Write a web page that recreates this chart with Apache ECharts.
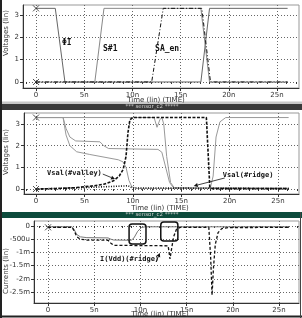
<!DOCTYPE html>
<html>
<head>
<meta charset="UTF-8">
<script src="https://cdn.jsdelivr.net/npm/echarts@6/dist/echarts.min.js"></script>
<style>
    html, body { margin: 0; padding: 0; background: #fff; }
    #chart { width: 302px; height: 318px; }
</style>
</head>
<body>
<div id="chart"></div>
<script>
// 时间轴刻度 (ns)
var timeTicks = [0, 5, 10, 15, 20, 25];
var timeLabels = ['0', '5n', '10n', '15n', '20n', '25n'];
var timeMinor = [-1, 0, 1, 2, 3, 4, 5, 6, 7, 8, 9, 10, 11, 12, 13, 14, 15, 16, 17, 18, 19, 20, 21, 22, 23, 24, 25, 26, 27];
var voltTicks = [0, 1, 2, 3];
var voltLabels = ['0', '1', '2', '3'];
var currTicks = [0, -0.5, -1, -1.5, -2, -2.5];       // mA
var currLabels = ['0', '-500u', '-1m', '-1.5m', '-2m', '-2.5m'];

// 面板1: 控制信号 [t(ns), V]
var phiI = [[0, 3.3], [2.0, 3.3], [3.0, 0], [17.1, 0], [18.0, 3.3], [26.1, 3.3]];
var sw1 = [[0, 0], [6.1, 0], [7.05, 3.3], [17.1, 3.3], [18.0, 0], [26.1, 0]];
var saEn = [[0, 0], [12.0, 0], [13.2, 3.3], [17.2, 3.3], [18.1, 0], [26.1, 0]];

// 面板2: 灵敏放大器节点 [t(ns), V]
var node1 = [[0, 3.3], [12.2, 3.3], [12.5, 2.85], [12.8, 3.2], [13.0, 3.3], [13.2, 3.0], [13.5, 1.5], [13.9, 0.3], [14.3, 0.05],
             [18.0, 0.03], [18.3, 0.6], [18.6, 2.4], [19.0, 3.1], [19.6, 3.3], [26.1, 3.3]];
var node2 = [[0, 3.3], [2.8, 3.3], [3.1, 2.8], [3.5, 2.4], [4.1, 2.22], [6.6, 2.18], [7.0, 2.0], [7.5, 1.87], [12.6, 1.83],
             [13.0, 1.7], [13.4, 1.0], [13.8, 0.3], [14.2, 0.06], [26.1, 0.03]];
var node3 = [[0, 3.3], [2.8, 3.3], [3.1, 2.5], [3.5, 2.0], [4.2, 1.72], [5.5, 1.6], [8.5, 1.35], [9.0, 1.25], [9.3, 1.0],
             [9.6, 0.4], [9.9, 0.1], [10.4, 0.03], [26.1, 0.03]];
var vsaValley = [[0, 0], [2, 0.02], [4, 0.06], [6, 0.15], [7, 0.22], [8, 0.38], [8.6, 0.6], [9, 0.9], [9.3, 1.5], [9.5, 2.6],
                 [9.7, 3.2], [10, 3.3], [17.6, 3.3], [17.8, 1.5], [17.95, 0.1], [18.2, 0.02], [26.1, 0.02]];
var vsaRidge = [[0, 0], [4, 0.05], [8, 0.12], [9.5, 0.15], [10, 0.05], [26.1, 0.02]];

// 面板3: 电源电流 [t(ns), mA]
var iVddA = [[0, -0.03], [2.6, -0.03], [2.7, 0.0], [2.85, -0.15], [3.1, -0.32], [3.5, -0.41], [4.2, -0.44], [6.5, -0.45],
             [6.8, -0.5], [7.1, -0.53], [9.0, -0.54], [9.3, -0.45], [9.7, -0.2], [10.1, -0.06], [10.5, -0.03], [26.1, -0.03]];
var iVddB = [[0, -0.05], [2.6, -0.05], [2.7, -0.01], [2.85, -0.2], [3.1, -0.4], [3.5, -0.5], [4.2, -0.53], [6.5, -0.54],
             [6.8, -0.65], [7.1, -0.73], [13.0, -0.75], [13.2, -1.25], [13.35, -0.9], [13.6, -0.4], [13.9, -0.12], [14.3, -0.05],
             [17.4, -0.05], [17.6, -1.2], [17.75, -2.62], [17.9, -1.6], [18.1, -0.7], [18.4, -0.25], [18.8, -0.1], [19.5, -0.06], [26.1, -0.05]];

var cursor1 = [[0, 3.3], [0, 0]];
var cursor2 = [[0, 3.3], [0, 0]];
var cursor3 = [[0, -0.05]];

var myChart = echarts.init(document.getElementById('chart'));

var tickFont = { fontSize: 7, color: '#333', fontFamily: 'DejaVu Sans' };
var gridLine = { show: true, lineStyle: { color: '#666', width: 1, type: [1, 2] } };

function mainX(g, min, max) {
    return {
        type: 'value', gridIndex: g, min: min, max: max,
        axisLine: { onZero: false, lineStyle: { color: '#333' } },
        axisTick: { customValues: timeTicks, length: 3, lineStyle: { color: '#333' } },
        axisLabel: Object.assign({
            customValues: timeTicks, margin: 4,
            formatter: function (v) { return timeLabels[timeTicks.indexOf(v)]; }
        }, tickFont),
        splitLine: gridLine
    };
}
function minorX(g, min, max) {
    return {
        type: 'value', gridIndex: g, min: min, max: max, position: 'bottom',
        axisLine: { show: false },
        axisTick: { customValues: timeMinor, length: 2, lineStyle: { color: '#333' } },
        axisLabel: { show: false },
        splitLine: { show: false }
    };
}
function mainY(g, min, max, ticks, labels) {
    return {
        type: 'value', gridIndex: g, min: min, max: max,
        axisLine: { show: true, onZero: false, lineStyle: { color: '#333' } },
        axisTick: { show: true, customValues: ticks, length: 3, lineStyle: { color: '#333' } },
        axisLabel: Object.assign({
            customValues: ticks, margin: 4,
            formatter: function (v) { return labels[ticks.indexOf(v)]; }
        }, tickFont),
        splitLine: gridLine
    };
}
function line(name, data, xi, color, width, type) {
    return {
        name: name, type: 'line', xAxisIndex: xi, yAxisIndex: xi, data: data,
        showSymbol: false, symbol: 'none', silent: true,
        lineStyle: { color: color, width: width, type: type || 'solid' }
    };
}
function cursor(data, xi) {
    return {
        type: 'scatter', xAxisIndex: xi, yAxisIndex: xi, data: data, silent: true,
        symbol: 'path://M0 0L10 10M10 0L0 10', symbolSize: 6,
        itemStyle: { color: 'none', borderColor: '#222', borderWidth: 1 }, z: 5
    };
}

var option = {
    animation: false,
    backgroundColor: '#fff',
    grid: [
        { left: 23, top: 5, width: 276, height: 83, show: true, borderColor: '#999', borderWidth: 1 },
        { left: 24, top: 113, width: 275, height: 81, show: true, borderColor: '#999', borderWidth: 1 },
        { left: 34, top: 221, width: 265, height: 82, show: true, borderColor: '#999', borderWidth: 1 }
    ],
    xAxis: [
        mainX(0, -1.35, 27.28), mainX(1, -1.24, 27.17), mainX(2, -1.52, 27.16),
        minorX(0, -1.35, 27.28), minorX(1, -1.24, 27.17), minorX(2, -1.52, 27.16)
    ],
    yAxis: [
        mainY(0, -0.27, 3.45, voltTicks, voltLabels),
        mainY(1, -0.23, 3.51, voltTicks, voltLabels),
        mainY(2, -2.917, 0.19, currTicks, currLabels)
    ],
    series: [
        line('ΦI', phiI, 0, '#666', 1),
        line('S#1', sw1, 0, '#888', 1),
        line('SA_en', saEn, 0, '#111', 1, [4, 2, 1, 2]),
        cursor(cursor1, 0),
        line('n1', node1, 1, '#999', 1),
        line('n2', node2, 1, '#999', 1),
        line('n3', node3, 1, '#999', 1),
        line('Vsal(#ridge)', vsaRidge, 1, '#111', 1.6, [1, 1.5]),
        line('Vsal(#valley)', vsaValley, 1, '#111', 1.6, [3, 1.5]),
        cursor(cursor2, 1),
        line('I(Vdd)a', iVddA, 2, '#777', 1),
        line('I(Vdd)(#ridge)', iVddB, 2, '#111', 1.3, [3, 2]),
        cursor(cursor3, 2)
    ]
};
myChart.setOption(option);

// 窗口框架与注释
function px(i, p) { return myChart.convertToPixel({ xAxisIndex: i, yAxisIndex: i }, p); }
var labelFont = { fontFamily: 'DejaVu Sans Mono', fontWeight: 'bold', fill: '#111' };
function label(i, p, text, size, align) {
    var q = px(i, p);
    return { type: 'text', x: q[0], y: q[1], z: 10,
        style: Object.assign({ text: text, fontSize: size, align: align || 'center', verticalAlign: 'middle' }, labelFont) };
}
function arrow(i, from, to) {
    var a = px(i, from), b = px(i, to);
    var ang = Math.atan2(b[1] - a[1], b[0] - a[0]), L = 4, W = 2;
    var bx = b[0] - L * Math.cos(ang), by = b[1] - L * Math.sin(ang);
    return [
        { type: 'line', z: 10, shape: { x1: a[0], y1: a[1], x2: bx, y2: by }, style: { stroke: '#111', lineWidth: 0.8 } },
        { type: 'polygon', z: 10, shape: { points: [b,
            [bx + W * Math.sin(ang), by - W * Math.cos(ang)], [bx - W * Math.sin(ang), by + W * Math.cos(ang)]] },
          style: { fill: '#111' } }
    ];
}
function box(i, p0, p1) {
    var a = px(i, p0), b = px(i, p1);
    return { type: 'rect', z: 10, shape: { x: a[0], y: a[1], width: b[0] - a[0], height: b[1] - a[1], r: 3 },
             style: { fill: 'none', stroke: '#111', lineWidth: 1.5 } };
}
function sideTitle(x, y, text) {
    return { type: 'text', x: x, y: y, rotation: Math.PI / 2, z: 10,
        style: { text: text, fontSize: 7, fill: '#333', fontFamily: 'DejaVu Sans', align: 'center', verticalAlign: 'middle' } };
}
function axisTitle(x, y) {
    return { type: 'text', x: x, y: y, z: 10,
        style: { text: 'Time (lin) (TIME)', fontSize: 7, fill: '#333', fontFamily: 'DejaVu Sans', align: 'center', verticalAlign: 'middle' } };
}
function bar(y, h, color) {
    return [
        { type: 'rect', z: 8, shape: { x: 0, y: y, width: 302, height: h }, style: { fill: color } },
        { type: 'text', z: 9, x: 152, y: y + h / 2, style: { text: '*** sensor_c2 *****', fontSize: 5.5, fill: '#ccc',
            fontFamily: 'DejaVu Sans', align: 'center', verticalAlign: 'middle' } }
    ];
}

var graphics = [
    { type: 'rect', z: 7, shape: { x: 0, y: 101.5, width: 302, height: 3 }, style: { fill: '#c8c8c8' } },
    { type: 'line', z: 9, shape: { x1: 1, y1: 0, x2: 1, y2: 318 }, style: { stroke: '#222', lineWidth: 2 } },
    { type: 'line', z: 9, shape: { x1: 0, y1: 316.5, x2: 302, y2: 316.5 }, style: { stroke: '#222', lineWidth: 2 } },
    { type: 'line', z: 9, shape: { x1: 300.5, y1: 212, x2: 300.5, y2: 318 }, style: { stroke: '#444', lineWidth: 1 } },
    sideTitle(6, 33, 'Voltages (lin)'),
    sideTitle(6, 152, 'Voltages (lin)'),
    sideTitle(6, 271, 'Currents (lin)'),
    axisTitle(156, 100),
    axisTitle(160, 208),
    axisTitle(160, 314),
    label(0, [3.2, 1.75], 'ΦI', 8),
    label(0, [7.7, 1.46], 'S#1', 8),
    label(0, [13.6, 1.5], 'SA_en', 8),
    label(1, [1.14, 0.72], 'Vsal(#valley)', 7, 'left'),
    label(1, [19.3, 0.65], 'Vsal(#ridge)', 7, 'left'),
    label(2, [5.63, -1.27], 'I(Vdd)(#ridge)', 7, 'left'),
    box(2, [8.77, 0.076], [10.6, -0.68]),
    box(2, [12.2, 0.15], [14.05, -0.57])
].concat(bar(104, 6, '#3a3a3a'), bar(212, 6, '#0d4b3c'),
    arrow(1, [6.9, 0.69], [8.16, 0.46]),
    arrow(1, [19.5, 0.51], [16.3, 0.14]),
    arrow(2, [11.7, -1.36], [12.1, -1.02]));

myChart.setOption({ graphic: graphics });
</script>
</body>
</html>
